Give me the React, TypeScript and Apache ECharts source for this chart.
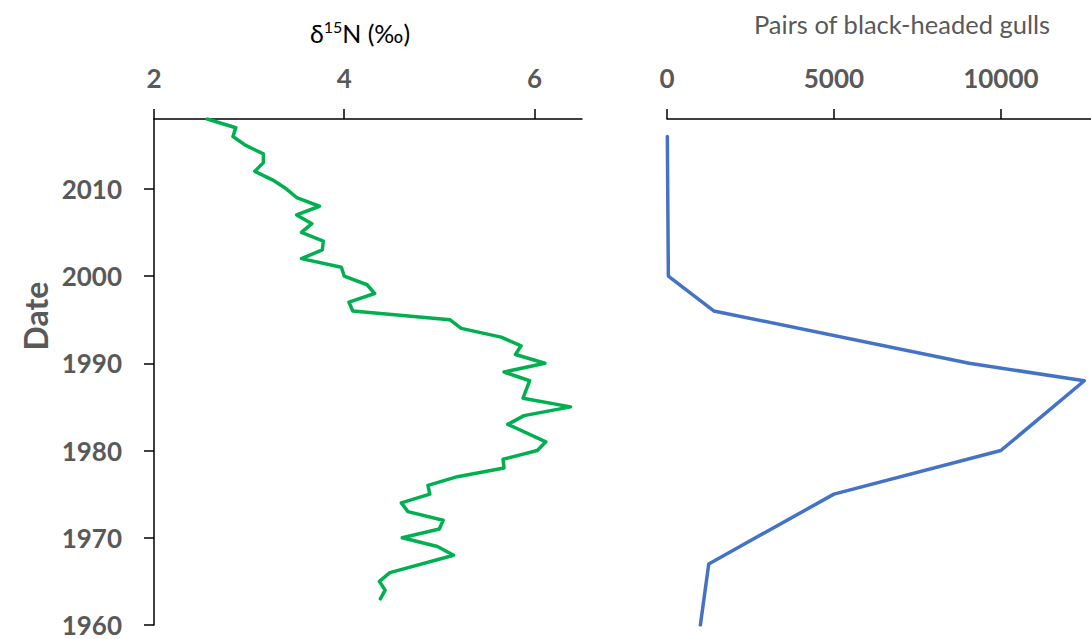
import React, { useEffect, useRef } from 'react';
import * as echarts from 'echarts';

// δ15N profile (year, ‰)
const YEARS_N = [2018, 2017, 2016, 2015, 2014, 2013, 2012, 2011, 2010, 2009, 2008, 2007, 2006, 2005, 2004, 2003, 2002, 2001, 2000, 1999, 1998, 1997, 1996, 1995, 1994, 1993, 1992, 1991, 1990, 1989, 1988, 1986, 1985, 1984, 1983, 1981, 1980, 1979, 1978, 1977, 1976, 1975, 1974, 1973, 1972, 1971, 1970, 1969, 1968, 1966, 1965, 1964, 1963];
const D15N = [2.56, 2.86, 2.83, 2.96, 3.15, 3.15, 3.06, 3.25, 3.39, 3.5, 3.74, 3.5, 3.66, 3.55, 3.78, 3.77, 3.55, 3.97, 4.0, 4.24, 4.32, 4.05, 4.09, 5.11, 5.23, 5.65, 5.86, 5.8, 6.11, 5.68, 5.95, 5.88, 6.38, 5.89, 5.72, 6.12, 6.03, 5.67, 5.68, 5.19, 4.88, 4.9, 4.6, 4.67, 5.04, 5.0, 4.61, 4.98, 5.15, 4.48, 4.37, 4.43, 4.38];

// Black-headed gull pairs (year, pairs)
const YEARS_G = [2016, 2000, 1996, 1990, 1988, 1980, 1975, 1967, 1960];
const PAIRS_G = [10, 40, 1400, 9050, 12500, 10000, 5000, 1250, 1000];

const X_TICKS_N = [2, 4, 6];
const X_TICKS_G = [0, 5000, 10000];
const Y_TICKS = [1960, 1970, 1980, 1990, 2000, 2010];

const GREY = '#595959';
const FONT = 'Lato';

export default function App() {
  const ref = useRef<HTMLDivElement>(null);
  useEffect(() => {
    document.body.style.margin = '0';
    const chart = echarts.init(ref.current!, null, { renderer: 'svg' });
    const tickLabel = {
      color: GREY, fontFamily: FONT, fontWeight: 'bold' as const, fontSize: 26, lineHeight: 24,
      formatter: (v: number) => String(v),
    };
    const axisLine = { show: true, onZero: false, lineStyle: { color: '#000', width: 1.5 } };
    const tickStyle = { color: '#000', width: 1.5 };
    chart.setOption({
      animation: false,
      backgroundColor: '#fff',
      grid: [
        { left: 154, right: 509, top: 119, bottom: 14 },
        { left: 667, right: -1, top: 119, bottom: 14 },
      ],
      xAxis: [
        {
          type: 'value', gridIndex: 0, position: 'top', min: 2, max: 6.5,
          axisLine, splitLine: { show: false },
          axisTick: { show: true, length: 10, lineStyle: tickStyle, customValues: X_TICKS_N },
          axisLabel: { ...tickLabel, margin: 29, customValues: X_TICKS_N },
        },
        {
          type: 'value', gridIndex: 1, position: 'top', min: 0, max: 12700,
          axisLine, splitLine: { show: false },
          axisTick: { show: true, length: 10, lineStyle: tickStyle, customValues: X_TICKS_G },
          axisLabel: { ...tickLabel, margin: 29, customValues: X_TICKS_G },
        },
      ],
      yAxis: [
        {
          type: 'value', gridIndex: 0, position: 'left', min: 1960, max: 2018,
          axisLine, splitLine: { show: false },
          axisTick: { show: true, length: 10, lineStyle: tickStyle, customValues: Y_TICKS },
          axisLabel: { ...tickLabel, margin: 32, customValues: Y_TICKS },
        },
        {
          type: 'value', gridIndex: 1, min: 1960, max: 2018, show: false,
          splitLine: { show: false },
        },
      ],
      series: [
        {
          type: 'line', xAxisIndex: 0, yAxisIndex: 0, showSymbol: false, symbol: 'none',
          data: YEARS_N.map((y, i) => [D15N[i], y]),
          lineStyle: { color: '#00B050', width: 3.5, join: 'round', cap: 'round' },
        },
        {
          type: 'line', xAxisIndex: 1, yAxisIndex: 1, showSymbol: false, symbol: 'none',
          data: YEARS_G.map((y, i) => [PAIRS_G[i], y]),
          lineStyle: { color: '#4472C4', width: 3.5, join: 'round', cap: 'round' },
        },
      ],
      graphic: [
        {
          type: 'text', x: 360, y: 33,
          style: {
            text: '{a|δ}{s|15}{a|N (‰)}', align: 'center', verticalAlign: 'middle',
            rich: {
              a: { fontFamily: FONT, fontSize: 25, color: GREY, lineHeight: 30 },
              s: { fontFamily: FONT, fontSize: 16, color: GREY, lineHeight: 18, verticalAlign: 'top' },
            },
          },
        },
        {
          type: 'text', x: 902, y: 24,
          style: { text: 'Pairs of black-headed gulls', align: 'center', verticalAlign: 'middle', fontFamily: FONT, fontSize: 25.5, fill: GREY },
        },
        {
          type: 'text', x: 35, y: 316, rotation: Math.PI / 2,
          style: { text: 'Date', align: 'center', verticalAlign: 'middle', fontFamily: FONT, fontSize: 32, fontWeight: 'bold', fill: GREY },
        },
      ],
    });
    return () => chart.dispose();
  }, []);
  return <div ref={ref} style={{ width: 1091, height: 639 }} />;
}
